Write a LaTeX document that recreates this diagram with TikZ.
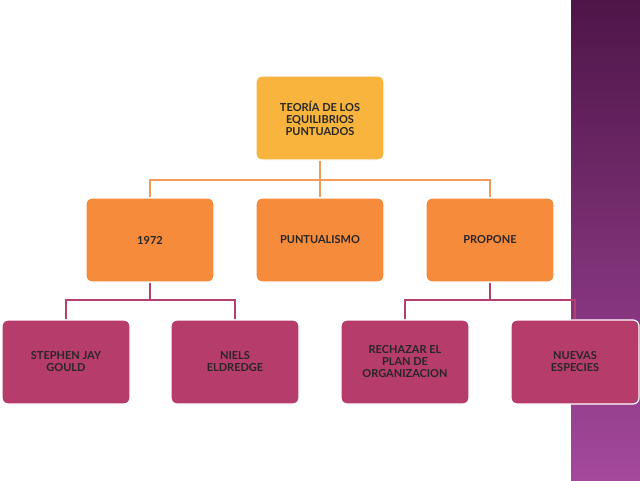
\documentclass[tikz,border=0pt]{standalone}
\usepackage{fontspec}
\setmainfont{Lato}
\begin{document}
\begin{tikzpicture}[x=1pt,y=-1pt,
 box/.style={draw=white,line width=1.2pt,rounded corners=6pt,minimum width=128pt,minimum height=84pt,align=center,font=\bfseries\fontsize{11}{12}\selectfont,text=black!85},
 topc/.style={box,fill=topcol},
 midc/.style={box,fill=midcol},
 lowc/.style={box,fill=lowcol},
 con/.style={line width=2.2pt}]
\definecolor{topcol}{HTML}{F8B43C}
\definecolor{midcol}{HTML}{F68B3B}
\definecolor{lowcol}{HTML}{B63D6B}
\definecolor{band1}{HTML}{4E1548}
\definecolor{band2}{HTML}{A4489C}
\definecolor{orl}{HTML}{F29A5A}
\definecolor{pul}{HTML}{B4406E}
\useasboundingbox (0,0) rectangle (640,480);
\fill[white] (0,0) rectangle (640,480);
\shade[top color=band1,bottom color=band2] (571,0) rectangle (640,480);
\node[topc] (t) at (320,118) {TEORÍA DE LOS\\EQUILIBRIOS\\PUNTUADOS};
\node[midc] (a) at (150,240) {1972};
\node[midc] (b) at (320,240) {PUNTUALISMO};
\node[midc] (c) at (490,240) {PROPONE};
\node[lowc] (d) at (66,362) {STEPHEN JAY\\GOULD};
\node[lowc] (e) at (235,362) {NIELS\\ELDREDGE};
\node[lowc] (f) at (405,362) {RECHAZAR EL\\PLAN DE\\ORGANIZACION};
\node[lowc] (g) at (575,362) {NUEVAS\\ESPECIES};
\begin{scope}[on background layer/.style={}]
\end{scope}
\coordinate (j1) at (320,180);
\coordinate (j2) at (150,300);
\coordinate (j3) at (490,300);
\draw[con,orl] (t.south) -- (j1);
\draw[con,orl] (a.north) -- (a.north|-j1) -- (c.north|-j1) -- (c.north);
\draw[con,orl] (j1) -- (b.north);
\draw[con,pul] (a.south) -- (j2);
\draw[con,pul] (d.north) -- (d.north|-j2) -- (e.north|-j2) -- (e.north);
\draw[con,pul] (c.south) -- (j3);
\draw[con,pul] (f.north) -- (f.north|-j3) -- (g.north|-j3) -- (g.north);
\end{tikzpicture}
\end{document}
